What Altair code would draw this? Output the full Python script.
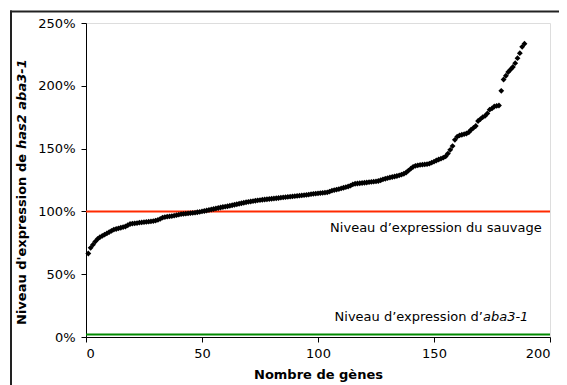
import altair as alt
import pandas as pd

# ---- data ----
gene_values = [
    66.5, 71, 73.5, 76, 78, 79.5, 80.5, 81.5, 82.5, 83.5,
    84.5, 85.5, 86, 86.5, 87, 87.5, 88, 89, 90, 90.3,
    90.5, 90.7, 91, 91.2, 91.4, 91.6, 91.8, 92, 92.3, 92.7,
    93.2, 94, 95, 95.5, 95.8, 96, 96.3, 96.6, 97, 97.4,
    97.8, 98, 98.2, 98.4, 98.6, 98.8, 99, 99.3, 99.6, 100,
    100.3, 100.7, 101.1, 101.5, 101.9, 102.3, 102.7, 103.1, 103.5, 103.8,
    104.1, 104.5, 104.9, 105.3, 105.7, 106.1, 106.5, 106.9, 107.3, 107.6,
    107.9, 108.2, 108.5, 108.8, 109, 109.3, 109.5, 109.7, 109.9, 110.1,
    110.3, 110.5, 110.7, 110.9, 111.1, 111.3, 111.5, 111.7, 111.9, 112.1,
    112.3, 112.5, 112.7, 112.9, 113.1, 113.4, 113.7, 114, 114.2, 114.4,
    114.6, 114.8, 115, 115.2, 115.8, 116.5, 117, 117.4, 117.8, 118.3,
    118.8, 119.3, 119.8, 120.5, 121.5, 122, 122.2, 122.4, 122.6, 122.8,
    123, 123.3, 123.5, 123.7, 123.9, 124.2, 124.8, 125.5, 126, 126.5,
    127, 127.4, 127.8, 128.2, 128.7, 129.3, 130, 131, 132.5, 134,
    135.5, 136.3, 136.7, 137, 137.2, 137.4, 137.6, 138, 138.8, 139.6,
    140.5, 141.3, 142, 142.8, 143.8, 146, 149, 152, 157, 159.5,
    160.5, 161, 161.5, 162, 163, 165, 166.5, 168, 172, 173.5,
    175, 176, 178, 181, 182, 183.5, 184, 184.3, 196, 205,
    208, 211, 213, 215, 218, 222, 226, 231, 233.5,
]
gene_index = list(range(1, len(gene_values) + 1))

ref_levels = [100, 2]
ref_colors = ["#FF2A00", "#008A00"]

label_texts = ["Niveau d\u2019expression du sauvage", "Niveau d\u2019expression d\u2019", "aba3-1"]
label_x = [196.4, 171.1, 171.1]
label_y = [86.8, 15.9, 15.9]
label_align = ["right", "right", "left"]
label_style = ["normal", "normal", "italic"]

ytitle_texts = ["Niveau d'expression de", "has2 aba3-1"]
ytitle_align = ["right", "left"]
ytitle_style = ["normal", "italic"]
ytitle_anchor = [131, 126]

x_ticks = [0, 50, 100, 150, 200]
y_ticks = [0, 50, 100, 150, 200, 250]

FONT = "DejaVu Sans"
W, H = 464, 314
PAD = {"left": 78, "top": 15, "right": 9, "bottom": 48}

pts = pd.DataFrame({"n": gene_index, "v": gene_values})
refs = pd.DataFrame({"v": ref_levels, "c": ref_colors})

xscale = alt.Scale(domain=[0, 200], nice=False)
yscale = alt.Scale(domain=[0, 250], nice=False)

xaxis = alt.Axis(values=x_ticks, title="Nombre de g\u00e8nes", grid=False,
                 domainColor="#000", tickColor="#000", tickSize=5,
                 labelFont=FONT, labelFontSize=13, labelColor="#000", labelPadding=5,
                 titleFont=FONT, titleFontSize=13, titleFontWeight="bold",
                 titleColor="#000", titlePadding=8)
yaxis = alt.Axis(values=y_ticks, title=None, grid=False,
                 labelExpr="datum.value + '%'",
                 domainColor="#000", tickColor="#000", tickSize=5,
                 labelFont=FONT, labelFontSize=13, labelColor="#000", labelPadding=6)

# decorative chart frame (top and left edges), kept inside the canvas
one = pd.DataFrame({"k": [0]})
frame_top = alt.Chart(one).mark_rule(stroke="#222", strokeWidth=2, clip=False).encode(
    x=alt.value(-76), x2=alt.value(W + PAD["right"]), y=alt.value(-11.5))
frame_left = alt.Chart(one).mark_rule(stroke="#222", strokeWidth=2, clip=False).encode(
    x=alt.value(-75), y=alt.value(-12.5), y2=alt.value(H + PAD["bottom"]))

points = alt.Chart(pts).mark_point(
    filled=True, shape="diamond", size=34, color="#000", opacity=1
).encode(
    x=alt.X("n:Q", scale=xscale, axis=xaxis),
    y=alt.Y("v:Q", scale=yscale, axis=yaxis),
)

rules = alt.Chart(refs).mark_rule(strokeWidth=2).encode(
    y=alt.Y("v:Q", scale=yscale),
    color=alt.Color("c:N", scale=None),
)

text_layers = []
for t, x, y, a, s in zip(label_texts, label_x, label_y, label_align, label_style):
    text_layers.append(
        alt.Chart(pd.DataFrame({"t": [t], "x": [x], "y": [y]})).mark_text(
            align=a, baseline="middle", font=FONT, fontSize=13, fontStyle=s, color="#000"
        ).encode(x=alt.X("x:Q", scale=xscale), y=alt.Y("y:Q", scale=yscale), text="t:N")
    )

for t, a, s, yy in zip(ytitle_texts, ytitle_align, ytitle_style, ytitle_anchor):
    text_layers.append(
        alt.Chart(pd.DataFrame({"t": [t]})).mark_text(
            align=a, baseline="middle", angle=270, font=FONT, fontSize=13,
            fontWeight="bold", fontStyle=s, color="#000"
        ).encode(x=alt.value(-64), y=alt.value(yy), text="t:N")
    )

chart = alt.layer(frame_top, frame_left, rules, points, *text_layers).properties(
    width=W, height=H,
    autosize=alt.AutoSizeParams(type="none"),
    padding=PAD,
).configure_view(stroke=None).configure(background="white")

chart.save("out.html", embed_options={"renderer": "svg", "actions": False})
